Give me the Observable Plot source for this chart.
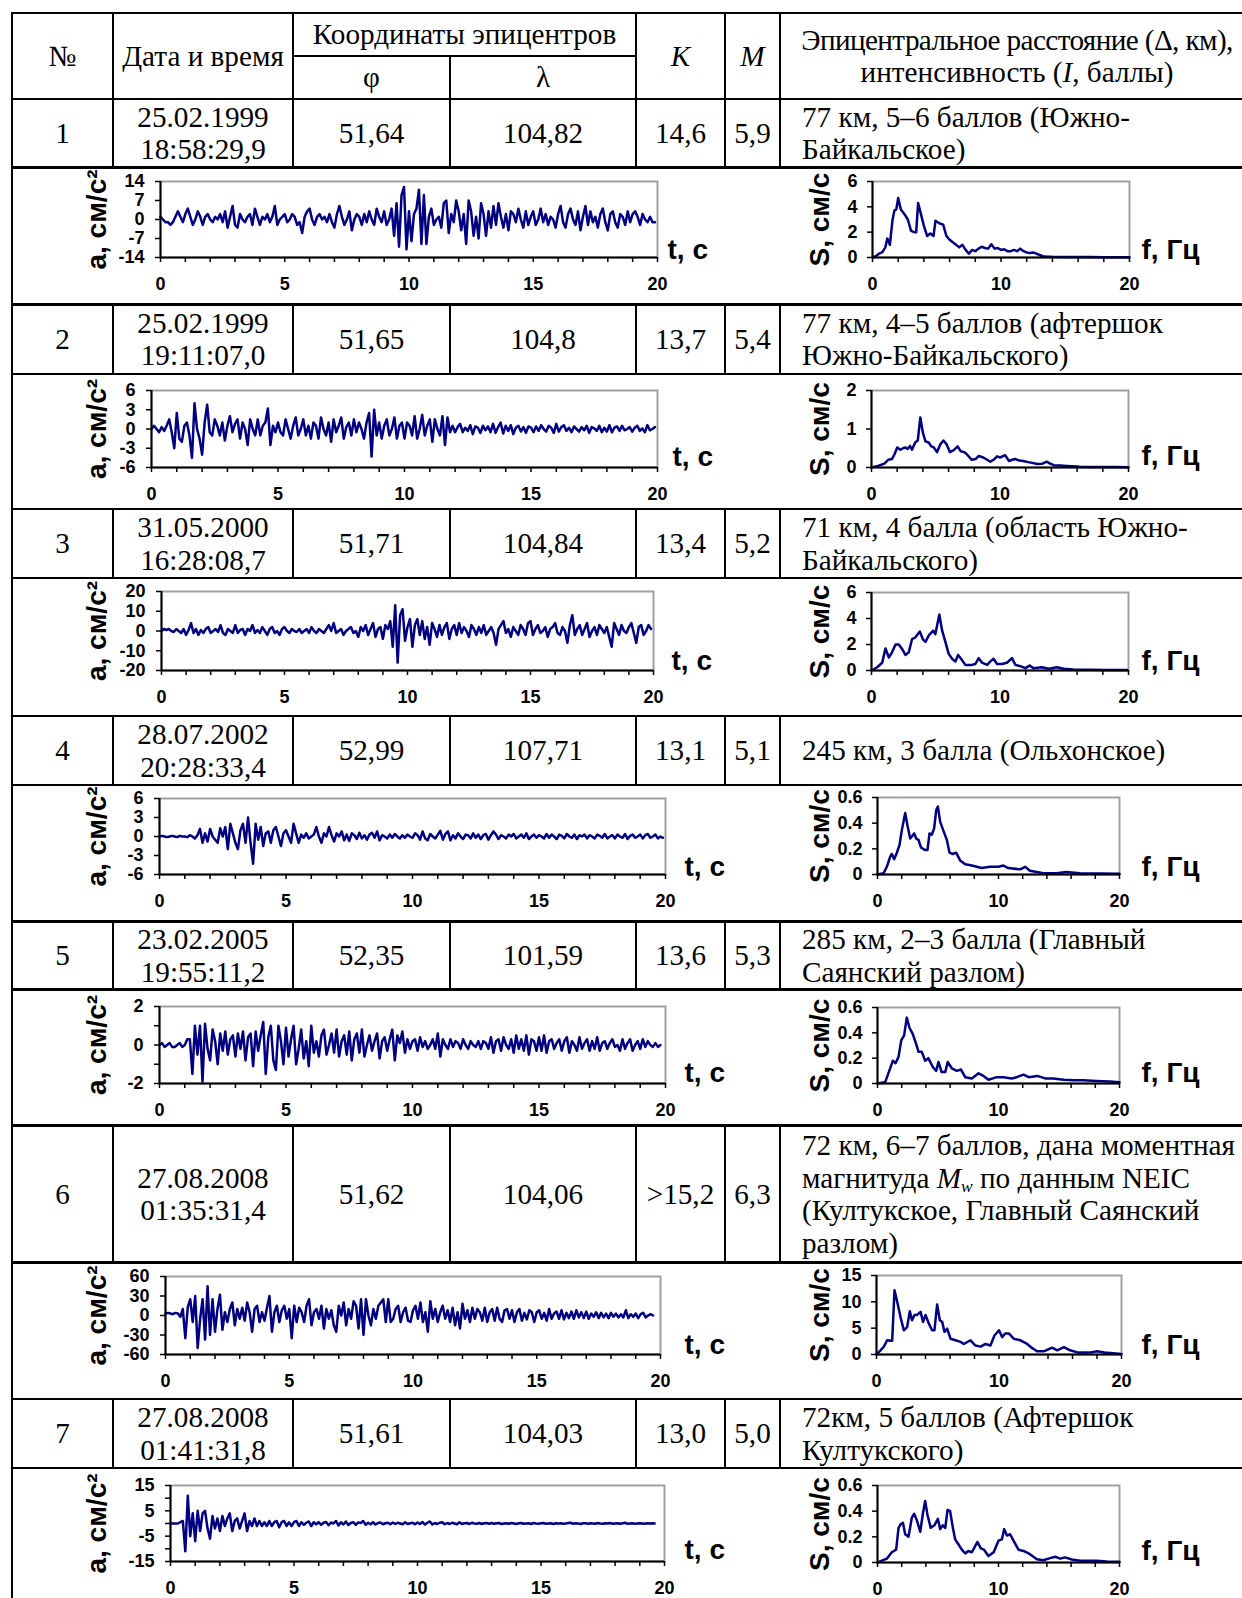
<!DOCTYPE html>
<html><head><meta charset="utf-8">
<script src="https://cdn.jsdelivr.net/npm/d3@7"></script>
<script src="https://cdn.jsdelivr.net/npm/@observablehq/plot@0.6"></script>
<style>
html,body{margin:0;padding:0;background:#fff;}
#page{position:relative;width:1242px;height:1598px;overflow:hidden;background:#fff;}
.ln{position:absolute;background:#000;}
.cell{position:absolute;display:flex;align-items:center;justify-content:center;text-align:center;font-family:"Liberation Serif","Times New Roman",serif;font-size:29.2px;line-height:32.5px;color:#000;white-space:nowrap;}
.cell.left{justify-content:flex-start;text-align:left;}
.cell sub{font-size:0.6em;line-height:0;vertical-align:-0.25em;}
.tight{letter-spacing:-0.6px;}
</style></head><body><div id="page"></div>
<script>
// ---------- table data ----------
const rowNo = ["1","2","3","4","5","6","7"];
const eventDate = ["25.02.1999","25.02.1999","31.05.2000","28.07.2002","23.02.2005","27.08.2008","27.08.2008"];
const eventTime = ["18:58:29,9","19:11:07,0","16:28:08,7","20:28:33,4","19:55:11,2","01:35:31,4","01:41:31,8"];
const lat = ["51,64","51,65","51,71","52,99","52,35","51,62","51,61"];
const lon = ["104,82","104,8","104,84","107,71","101,59","104,06","104,03"];
const Kval = ["14,6","13,7","13,4","13,1","13,6",">15,2","13,0"];
const Mval = ["5,9","5,4","5,2","5,1","5,3","6,3","5,0"];
const descr = [
  ["77 км, 5–6 баллов (Южно-","Байкальское)"],
  ["77 км, 4–5 баллов (афтершок","Южно-Байкальского)"],
  ["71 км, 4 балла (область Южно-","Байкальского)"],
  ["245 км, 3 балла (Ольхонское)"],
  ["285 км, 2–3 балла (Главный","Саянский разлом)"],
  ["72 км, 6–7 баллов, дана моментная","магнитуда <i>M<sub>w</sub></i> по данным NEIC","(Култукское, Главный Саянский","разлом)"],
  ["72км, 5 баллов (Афтершок","Култукского)"]
];
const headerTexts = ["№","Дата и время","Координаты эпицентров","φ","λ","<i>K</i>","<i>M</i>","<span class='tight'>Эпицентральное расстояние (Δ, км),</span><br>интенсивность (<i>I</i>, баллы)"];

// ---------- accelerograms (a, cm/s^2), sample step 0.1 s ----------
const accDt = 0.1;
const acc1 = [
1,0,-1,-1,-2,-1,1,3,1,-1,
2,4,1,-2,0,3,1,-2,1,2,
0,-1,1,0,2,-1,3,-3,1,5,
-2,-3,2,0,-1,1,2,-2,4,1,
-2,1,0,2,-1,1,5,-2,0,1,
2,-1,0,2,1,-2,-1,-5,1,3,
4,0,-2,1,2,0,1,-1,2,-1,
-3,2,5,1,-2,0,3,-4,0,2,
1,-2,2,-1,3,0,-2,4,1,-1,
3,-2,0,4,-6,6,-10,9,12,-11,
3,-8,2,4,11,-9,9,-9,1,4,
-2,0,1,-3,6,7,-5,2,-1,7,
3,-4,2,-9,7,3,-6,1,-7,6,
2,-6,3,-3,5,-2,6,1,-3,2,
-4,3,2,-1,4,0,-3,3,-2,1,
3,-2,0,4,-1,2,-2,1,0,-3,
2,5,-1,-3,2,4,0,-2,3,-4,
1,5,-2,3,-1,1,-3,2,4,-1,
-4,2,3,-1,-3,2,1,-2,3,-1,
2,3,1,-2,2,0,-1,1,-1,-1];
const acc2 = [
0,0.5,0,-0.5,0.3,-0.3,0.5,1.5,-0.5,-3,
2.5,-1.5,-2,0.5,1,-1,-4.5,4,0,-1.5,
-4,1,3.8,-0.5,-1,1.5,0.5,-1,1,-1.8,
0.5,2,-0.5,0.8,1.5,-1.5,1,0,-2.5,1.5,
0,-1,1.5,-1,0.5,1,3.2,-2.5,0.5,-0.5,
1,-0.5,-1,1.5,0,-1.5,0.5,1.8,-1,0,
1.5,-1,0.5,-1.5,1,0.5,-1.5,1.8,0,-1,
1,-2,1.5,-0.5,0.5,1.8,-1.5,0.3,1,-1,
1.5,-0.5,1,0,-1.5,1,2.5,-4.3,3,-1,
1,-1.5,0.5,1.5,-1,0,1.8,-1.5,0.5,1,
-1.5,1,0.5,-1,2,-1.5,0,2.2,-1,0.5,
1.5,-2,1.5,0,-1,2,-2.5,1.8,-0.5,0.5,
-0.5,0.3,0.8,-0.5,0.2,-0.3,0.6,-0.8,0.4,0.2,
-0.6,0.5,-0.2,0.4,-0.5,0.8,-0.6,0.3,1,-0.7,
0.5,-0.3,0.6,-0.8,0.2,0.5,-0.4,0.3,-0.6,0.4,
0.2,-0.5,0.4,-0.3,0.6,0,-0.4,0.5,0.2,-0.6,
0.8,-0.4,0.3,0.6,-0.3,0.2,-0.5,0.4,0,-0.4,
0.3,-0.2,0.5,-0.6,0.3,0.1,-0.3,0.5,-0.5,0.2,
-0.4,0.6,-0.5,0.2,0.4,-0.3,0.5,-0.2,0,0.3,
-0.4,0.2,0.5,-0.3,0.1,-0.5,0.6,-0.2,0,0.3];
const acc3 = [
0,1,0.5,1,0,-0.5,1,0,-1,1,
-2,0.5,4,-1,1,-2,0.5,-1,1,2,
-1,0,1,-0.5,3,-1,-2,1,0,-1,
3,-1,0.5,1,-2,1,0,3,-1,0.5,
-1,2,0,-2,1,2,-1,0,-2,1,
2,0,-1,1,0,-0.5,1,-1,0,1,
-1,2,0,-1,1,0,-1,1,3,0,
4,-1,0,1,-2,0,1,2,-1,0,
-3,2,0,3,-2,1,4,-3,1,2,
-4,3,1,5,-8,13,-16,8,11,-5,
2,6,-8,3,6,-2,5,-4,2,-7,
4,1,-3,3,-2,2,4,-4,1,3,
-2,4,-1,2,0,-3,3,1,-2,2,
-1,3,-2,0,2,-1,-7,1,3,5,
-1,1,-3,2,0,-2,3,1,-2,4,
5,-2,1,3,-1,0,2,-3,1,2,
4,-1,-2,2,0,-6,3,8,-2,1,
3,-2,1,4,-3,0,2,-2,3,1,
-1,2,-3,-8,4,1,-2,3,0,-1,
2,4,-1,-6,2,3,-2,0,3,1];
const acc4 = [
0,0.1,0,-0.1,0,0.1,0,-0.1,0.1,0,
0,-0.1,0.2,0,-0.3,0.2,1.2,-1,0.5,-0.8,
1.2,0,-0.5,-1,1.3,0,1.5,-2,2,0.5,
-1,-2,1,2,-1,3,-1,-4.3,2,-0.5,
1.5,-1.5,0.5,0.8,-1,1,1.5,0,-1.5,0.5,
1,0,-1,2,0.5,-1,0.3,-0.2,0.5,-0.3,
0,0.3,1.5,0,-1,0.5,0,1.5,0.2,-0.8,
0.5,0,0.8,-0.6,0.3,-0.7,0.5,0.2,-0.4,0.6,
-0.3,0.2,-0.5,0.3,0.6,-0.2,0.8,-0.6,0.2,0,
-0.3,0.3,-0.2,0.4,0,-0.3,0.2,-0.2,0.3,0,
-0.2,0.5,0.2,-0.5,0.8,-0.3,-0.6,0.4,0,-0.3,
0.3,0.9,-0.5,0.4,0.8,-0.6,0.2,-0.3,0.5,0,
-0.4,0.3,0.2,-0.3,0.5,-0.2,0.3,-0.4,0.2,0.4,
-0.5,0.2,0.8,0.3,-0.4,0.2,0,-0.3,0.3,0,
0.4,-0.3,0,0.3,-0.2,0.5,-0.4,0,0.3,-0.2,
0.2,0,-0.3,0.4,-0.2,0.3,0,-0.4,0.3,0.1,
-0.3,0.4,0,-0.2,0.3,-0.4,0.2,0,0.3,-0.3,
0.2,0,-0.3,0.3,0.1,-0.2,0.4,-0.3,0,0.2,
-0.3,0.3,0,-0.2,0.4,-0.4,0.1,0.3,-0.2,0,
0.3,-0.3,0.2,0.4,-0.2,0,0.3,-0.3,0,-0.2];
const acc5 = [
0,0.1,-0.1,0,0.1,-0.1,-0.1,0,0.1,-0.1,
0,0.3,0.3,-1.5,1,-0.5,1,-1.9,1.1,-0.2,
-0.8,0.8,0.2,-1,0.6,-0.3,0.7,-0.5,0.3,0.5,
-0.6,0.6,-0.2,0.7,-0.8,0.4,0.6,-1.1,0.7,-0.3,
0.5,1.2,-1.5,0.4,1,-0.8,-1.3,1,0.2,-1,
0.9,-0.6,0.3,1,-1,-0.2,0.8,-0.7,0.2,-1.1,
1,-0.4,0.2,-0.6,0.5,0.8,-0.5,0,0.6,-0.4,
0.8,-0.6,0.2,0.5,-0.5,0.7,-0.8,0.3,0.6,-0.4,
0.8,-0.6,0,0.5,-0.3,0.2,0.6,-0.7,0.2,0.4,
-0.3,0.3,0.8,-0.8,0.5,0.1,0.7,-0.4,0.3,-0.2,
0.2,0.3,-0.3,0.4,-0.1,0.2,-0.2,0,0.3,-0.2,
0.6,-0.6,0.3,0,-0.2,0.3,-0.1,0.2,0.1,-0.2,
0.3,0,-0.2,0.2,0,-0.1,0.2,-0.2,0.2,0.1,
-0.2,0.4,-0.4,0.2,0.3,-0.3,0.4,0,-0.2,0.3,
-0.4,0.5,-0.2,0.3,-0.3,0.5,-0.5,0.3,0.2,-0.3,
0.4,-0.3,0.5,-0.4,0.2,0.3,-0.2,0.1,0.3,-0.3,
0.2,0.4,-0.4,0.2,0,-0.3,0.4,-0.2,0.1,0.3,
-0.3,0.2,-0.2,0.4,-0.3,0.1,0.2,-0.2,0.1,0.3,
-0.1,0,-0.3,0.3,-0.2,0.1,0.3,-0.3,0,0.2,
-0.2,0.3,-0.1,0.2,0,-0.1,0.1,-0.1,0];
const acc6 = [
3,4,3,2,4,3,-2,10,-35,13,
25,-10,30,-50,-5,25,-37,45,-30,25,
-25,10,32,-22,5,-10,10,20,-15,10,
-5,12,-8,20,5,-25,10,15,-10,5,
-8,12,30,-25,5,15,-10,8,15,-5,
10,-35,15,-10,12,5,-10,15,25,-15,
5,10,-5,15,-20,10,-5,8,-15,-25,
15,0,20,-15,10,-5,22,15,-20,25,
-30,25,0,-15,10,-5,15,20,25,-10,
25,-10,-5,10,15,-10,5,12,-8,-10,
8,15,-5,20,-10,5,-25,22,-5,10,
-10,5,15,-5,8,-10,12,-15,5,-20,
18,-5,8,-10,12,-5,10,5,-8,12,
-10,5,10,-8,12,-5,-10,8,10,-5,
8,-10,5,10,-8,4,-6,8,5,-10,
5,8,-5,4,-8,10,-5,3,6,-5,
8,-6,4,-4,6,-5,8,-3,5,-4,
6,-5,3,-2,5,-4,4,-3,3,-4,
4,-2,3,-3,2,-3,8,-4,2,-2,
3,-4,2,4,-3,0,2,0];
const acc7 = [
0,0,0,0,0.5,1,-11,11,-5,4,
-7,5,-3,4,5,-2,-6,3,-2,2,
-3,3,-1,2,4,-3,1,2,-2,1,
4,-3,1,-1,2,-1,1,-1,0.5,-1,
1,-1,0.5,1,-1.5,0.5,1,-1,0.5,-1,
0.5,1,-1,0.5,-0.5,0.3,0.8,-1,0.5,-0.3,
0.5,-0.5,0.3,0.6,-0.7,0.4,0,1,-0.8,0.5,
-0.4,0.8,-0.6,0.2,0.5,-0.5,0.4,0.2,1,-0.5,
0.3,-0.3,0.5,-0.4,0.2,0.4,-0.3,0.1,0.3,-0.3,
0.4,-0.2,0.3,0,-0.3,0.5,-0.2,0.1,0.3,-0.3,
0.4,-0.2,0.6,-0.4,0.3,0.8,-0.4,0.2,-0.2,0.3,
0.5,-0.3,0.2,-0.2,0.3,0,-0.3,0.5,-0.2,0.1,
0.2,-0.2,0.3,0,-0.1,0.2,-0.2,0.1,0.2,-0.1,
0.2,-0.1,0.1,0.2,-0.2,0,0.1,-0.1,0.2,0,
-0.2,0.1,0.2,-0.1,0,0.1,-0.2,0.2,0,-0.1,
0.1,0.2,-0.1,0,0.1,-0.2,0.1,0,0.1,-0.1,
0,0.2,0.3,-0.1,0.1,0,-0.2,0.1,0.1,-0.1,
0.1,0,-0.1,0.2,0,-0.1,0.1,0,0.2,-0.1,
0,0.1,-0.1,0.1,0.3,-0.1,0,0.1,-0.1,0,
0.1,0,-0.1,0.1,0,0.1,0];
const accSeries = [acc1,acc2,acc3,acc4,acc5,acc6,acc7];
const accYMax = [14,6,20,6,2,60,15];
const accYTicks = [[-14,-7,0,7,14],[-6,-3,0,3,6],[-20,-10,0,10,20],[-6,-3,0,3,6],[-2,-1,0,1,2],[-60,-30,0,30,60],[-15,-10,-5,0,5,10,15]];
const accYLabels = [[-14,-7,0,7,14],[-6,-3,0,3,6],[-20,-10,0,10,20],[-6,-3,0,3,6],[-2,0,2],[-60,-30,0,30,60],[-15,-5,5,15]];
const accXTicks = d3.range(0,21,1);
const accXLabels = [0,5,10,15,20];

// ---------- Fourier spectra (S, cm/s vs f, Hz) ----------
const spec1F = [0,0.25,0.5,0.75,1,1.15,1.35,1.55,1.7,1.85,2,2.2,2.5,2.75,3,3.25,3.4,3.55,3.75,4,4.25,4.5,4.75,4.9,5.2,5.5,5.75,6,6.25,6.5,6.75,7,7.25,7.5,7.75,8,8.25,8.5,8.75,9,9.25,9.5,9.75,10,10.25,10.5,10.75,11,11.25,11.5,11.75,12,12.25,12.5,12.75,13,13.25,13.5,14,15,16,17,18,19,20];
const spec1S = [0,0.1,0.3,0.4,0.8,1.5,1.0,2.9,3.7,3.8,4.7,3.8,3.4,3.0,2.1,2.0,2.0,4.3,3.5,2.5,1.7,1.9,1.7,2.9,2.7,2.6,1.7,1.4,1.2,1.0,0.8,1.0,0.6,0.3,0.6,0.5,0.7,0.85,0.75,0.7,1.05,0.7,0.75,0.6,0.65,0.5,0.5,0.6,0.5,0.7,0.5,0.4,0.35,0.4,0.3,0.2,0.1,0.07,0.05,0.04,0.03,0.03,0.02,0.02,0.02];
const spec2F = [0,0.5,1,1.3,1.6,1.8,2,2.25,2.45,2.65,2.8,3,3.15,3.4,3.6,3.8,4,4.2,4.45,4.65,4.85,5.1,5.35,5.6,5.85,6.1,6.4,6.7,6.95,7.2,7.4,7.8,8.1,8.35,8.7,9,9.25,9.5,9.77,10,10.4,10.7,10.95,11.2,11.5,11.8,12.2,12.5,12.9,13.3,13.65,13.9,14.2,14.7,15.2,15.7,16.2,17,18,19,20];
const spec2S = [0,0.04,0.1,0.2,0.22,0.35,0.52,0.46,0.5,0.52,0.48,0.56,0.46,0.65,0.7,1.3,0.9,0.68,0.65,0.55,0.52,0.4,0.6,0.7,0.6,0.4,0.45,0.55,0.42,0.4,0.35,0.2,0.22,0.3,0.26,0.2,0.15,0.2,0.29,0.26,0.32,0.17,0.2,0.22,0.18,0.17,0.14,0.12,0.09,0.1,0.15,0.1,0.06,0.05,0.04,0.03,0.02,0.015,0.01,0.01,0.005];
const spec3F = [0,0.44,0.83,1.09,1.35,1.6,1.87,2.12,2.38,2.64,2.9,3.16,3.42,3.76,4,4.2,4.46,4.8,4.97,5.28,5.5,5.75,6,6.27,6.53,6.74,6.97,7.3,7.8,8.08,8.34,8.6,9,9.25,9.5,9.77,10.15,10.54,10.93,11.2,11.58,11.97,12.3,12.6,13.26,13.8,14.43,14.95,15.7,17,18.3,19.9];
const spec3S = [0,0.25,0.6,1.7,1.0,1.4,2.0,2.0,1.66,1.2,1.4,2.42,2.55,3.0,2.4,2.2,2.7,3.06,2.8,4.3,3.06,2.2,1.3,0.9,0.7,1.2,0.9,0.43,0.43,0.5,0.95,0.6,0.43,0.7,0.9,0.5,0.5,0.6,0.95,0.43,0.33,0.18,0.38,0.18,0.25,0.13,0.25,0.13,0.08,0.05,0.03,0.03];
const spec4F = [0,0.5,0.77,1.05,1.18,1.38,1.6,1.82,2,2.29,2.48,2.7,2.87,3.03,3.2,3.39,3.6,3.94,4.13,4.3,4.49,4.68,4.85,4.99,5.18,5.45,5.73,5.95,6.23,6.5,6.83,7.25,7.8,8.2,8.6,9.3,10,10.4,10.8,11.8,12.2,12.6,13.7,14.8,15.6,16.75,20];
const spec4S = [0,0.01,0.06,0.14,0.16,0.12,0.17,0.23,0.34,0.48,0.38,0.28,0.3,0.32,0.28,0.27,0.21,0.19,0.19,0.32,0.31,0.36,0.5,0.53,0.41,0.34,0.27,0.17,0.16,0.17,0.11,0.08,0.07,0.06,0.05,0.06,0.06,0.07,0.05,0.04,0.06,0.03,0.01,0.01,0.02,0.01,0.005];
const spec5F = [0,0.63,0.9,1.27,1.49,1.74,1.96,2.2,2.42,2.64,2.92,3.2,3.39,3.66,3.94,4.2,4.57,4.85,5.04,5.3,5.6,5.8,6.14,6.56,6.9,7.25,7.8,8.35,8.76,9.17,9.86,10.4,11.1,11.5,12.07,12.5,13.2,13.86,14.5,15.4,16.2,17,18.1,19.2,20];
const spec5S = [0,0.01,0.08,0.18,0.16,0.21,0.34,0.38,0.52,0.44,0.39,0.31,0.25,0.25,0.18,0.2,0.13,0.1,0.17,0.09,0.09,0.17,0.12,0.1,0.11,0.05,0.04,0.08,0.06,0.03,0.05,0.05,0.04,0.05,0.07,0.05,0.06,0.04,0.04,0.03,0.025,0.025,0.02,0.015,0.01];
const spec6F = [0,0.33,0.6,0.87,1.14,1.28,1.47,1.69,1.96,2.23,2.5,2.72,2.9,3.1,3.3,3.6,3.8,4,4.27,4.54,4.73,4.95,5.17,5.36,5.55,5.77,6.04,6.45,6.86,7.13,7.67,8.08,8.5,8.9,9.3,9.63,10,10.26,10.5,10.8,11.2,11.75,12.3,12.6,13.1,13.66,14.34,14.75,15.3,15.8,16.4,17.5,18,18.6,20];
const spec6S = [0,0.8,1.5,2.7,2.6,2.6,12.2,10,7.1,4.6,5.2,8.2,6.5,7.5,7.5,8.1,6.2,7.5,5.9,4.6,4.6,9.5,6.5,6.2,4.3,4.9,3.0,2.7,2.4,2.0,2.7,1.7,1.5,2.0,1.7,3.6,4.6,3.3,4.0,4.0,3.0,2.7,2.0,1.4,0.6,0.6,1.3,0.8,1.4,0.8,0.4,0.4,0.6,0.4,0.1];
const spec7F = [0,0.77,1.18,1.54,1.74,1.93,2.1,2.29,2.56,2.84,3.03,3.25,3.53,3.75,3.94,4.13,4.4,4.7,4.99,5.18,5.4,5.6,5.79,6,6.23,6.42,6.7,6.97,7.25,7.5,7.8,8.26,8.54,8.8,9.17,9.6,10,10.28,10.47,10.7,10.96,11.24,11.65,12.07,12.6,13.17,13.7,14.27,14.7,15.1,15.5,16.06,16.75,18.1,18.95,20];
const spec7S = [0,0.03,0.08,0.1,0.27,0.3,0.31,0.22,0.2,0.35,0.38,0.33,0.24,0.38,0.48,0.37,0.27,0.29,0.34,0.26,0.29,0.27,0.41,0.4,0.27,0.18,0.14,0.1,0.07,0.09,0.08,0.16,0.11,0.1,0.05,0.08,0.17,0.18,0.26,0.21,0.22,0.17,0.1,0.09,0.065,0.026,0.018,0.034,0.045,0.03,0.04,0.023,0.013,0.013,0.008,0.005];
const specF = [spec1F,spec2F,spec3F,spec4F,spec5F,spec6F,spec7F];
const specS = [spec1S,spec2S,spec3S,spec4S,spec5S,spec6S,spec7S];
const specYTicks = [[0,2,4,6],[0,1,2],[0,2,4,6],[0,0.2,0.4,0.6],[0,0.2,0.4,0.6],[0,5,10,15],[0,0.2,0.4,0.6]];
const specXTicks = d3.range(0,21,2);
const specXLabels = [0,10,20];

// ---------- layout ----------
const page = document.getElementById("page");
const hLines = [13,99,167.5,304.5,374,509,578,716,785,921.5,989.5,1125.5,1262.5,1399,1468];
const colX = [113,293,450,636,725,780];
const dataRowY = [[99,167.5],[304.5,374],[509,578],[716,785],[921.5,989.5],[1125.5,1262.5],[1399,1468]];
const accFrame = [[160,657,181,257],[151,657,390,467],[161,653,591,670],[159,665,798,874],[159,665,1006,1083],[165,660,1276,1354],[170,664,1485,1561]];
const specFrame = [[872,1129,181,257],[871,1128,390,467],[871,1128,592,670],[877,1119,797,874],[877,1119,1007,1083],[876,1121,1275,1354],[877,1119,1485,1562]];
const tLabelPos = [[667,250],[672,457],[671,661],[684,867],[684,1073],[684,1345],[684,1550]];
const fLabelPos = [[1141,250],[1141,456],[1141,661],[1141,867],[1141,1073],[1141,1345],[1141,1551]];

function addLine(x,y,w,h){const d=document.createElement("div");d.className="ln";Object.assign(d.style,{left:x+"px",top:y+"px",width:w+"px",height:h+"px"});page.appendChild(d);}
function hline(y,x1,x2,t=2.5){addLine(x1,y-t/2,x2-x1,t);}
function vline(x,y1,y2,t=2){addLine(x-t/2,y1,t,y2-y1);}
function cell(x1,x2,y1,y2,html,cls){const d=document.createElement("div");d.className="cell"+(cls?" "+cls:"");Object.assign(d.style,{left:x1+"px",top:y1+"px",width:(x2-x1)+"px",height:(y2-y1)+"px"});d.innerHTML="<div>"+html+"</div>";page.appendChild(d);return d;}

hLines.forEach(y=>hline(y,11,1242));
hline(56,293,636,2);
vline(12,12,1598,2);
[113,293,636,725,780].forEach(x=>vline(x,13,99));
vline(450,56,99);
dataRowY.forEach(([a,b])=>colX.forEach(x=>vline(x,a,b)));

cell(12,113,13,99,headerTexts[0]);
cell(113,293,13,99,headerTexts[1]);
cell(293,636,13,56,headerTexts[2]);
cell(293,450,56,99,headerTexts[3]);
cell(450,636,56,99,headerTexts[4]);
cell(636,725,13,99,headerTexts[5]);
cell(725,780,13,99,headerTexts[6]);
cell(780,1254,13,99,headerTexts[7]);

dataRowY.forEach(([a,b],i)=>{
  cell(12,113,a,b,rowNo[i]);
  cell(113,293,a,b,eventDate[i]+"<br>"+eventTime[i]);
  cell(293,450,a,b,lat[i]);
  cell(450,636,a,b,lon[i]);
  cell(636,725,a,b,Kval[i]);
  cell(725,780,a,b,Mval[i]);
  cell(802,1242,a,b,descr[i].join("<br>"),"left");
});

function buildChart(o){
  const [fl,fr,ft,fb]=o.frame;
  const svgT=ft-18, svgB=fb+44;
  const chart=Plot.plot({
    width:o.svgR-o.svgL, height:svgB-svgT,
    marginLeft:fl-o.svgL, marginRight:o.svgR-fr, marginTop:ft-svgT, marginBottom:svgB-fb,
    x:{domain:[0,20],label:null}, y:{domain:o.yDomain,label:null},
    style:{fontFamily:"'Liberation Sans', Arial, sans-serif",fontWeight:"bold",fontSize:"17px",color:"#000",background:"transparent",overflow:"visible"},
    marks:[
      Plot.frame({stroke:"#a0a0a0",strokeWidth:2}),
      Plot.line(o.points,{x:d=>d[0],y:d=>d[1],stroke:"#000080",strokeWidth:2.5}),
      Plot.ruleX([0],{stroke:"#000",strokeWidth:2}),
      Plot.ruleY([o.yDomain[0]],{stroke:"#000",strokeWidth:2}),
      Plot.axisY(o.yTicks,{tickSize:5,tickPadding:o.yPad,strokeWidth:1.5,fontSize:18,fontWeight:"bold",tickFormat:d=>o.yLabels.includes(d)?String(d):"",label:null}),
      Plot.axisX(o.xTicks,{tickSize:5,strokeWidth:1.5,tickFormat:()=>"",label:null}),
      Plot.axisX(o.xLabels,{tickSize:0,tickPadding:20,fontSize:18,fontWeight:"bold",tickFormat:d=>String(d),label:null}),
      Plot.text([o.yTitle],{frameAnchor:"left",dx:o.yTitleX-fl,rotate:-90,textAnchor:"middle",lineAnchor:"middle",fontSize:28,fontWeight:"bold",text:d=>d}),
      Plot.text([o.xTitle],{frameAnchor:"bottom-right",dx:o.xTitlePos[0]-fr,dy:o.xTitlePos[1]-fb,textAnchor:"start",lineAnchor:"middle",fontSize:28,fontWeight:"bold",text:d=>d})
    ]
  });
  chart.style.position="absolute";chart.style.left=o.svgL+"px";chart.style.top=svgT+"px";
  page.appendChild(chart);
}

for(let i=0;i<7;i++){
  buildChart({
    svgL:56, svgR:740, frame:accFrame[i], yPad:11,
    points:accSeries[i].map((v,k)=>[k*accDt,v]),
    yDomain:[-accYMax[i],accYMax[i]], yTicks:accYTicks[i], yLabels:accYLabels[i],
    xTicks:accXTicks, xLabels:accXLabels,
    yTitle:"a, см/с²", yTitleX:97, xTitle:"t, с", xTitlePos:tLabelPos[i]
  });
  const yt=specYTicks[i];
  buildChart({
    svgL:790, svgR:1240, frame:specFrame[i], yPad:10,
    points:d3.zip(specF[i],specS[i]),
    yDomain:[0,yt[yt.length-1]], yTicks:yt, yLabels:yt,
    xTicks:specXTicks, xLabels:specXLabels,
    yTitle:"S, см/с", yTitleX:820, xTitle:"f, Гц", xTitlePos:fLabelPos[i]
  });
}
</script></body></html>
